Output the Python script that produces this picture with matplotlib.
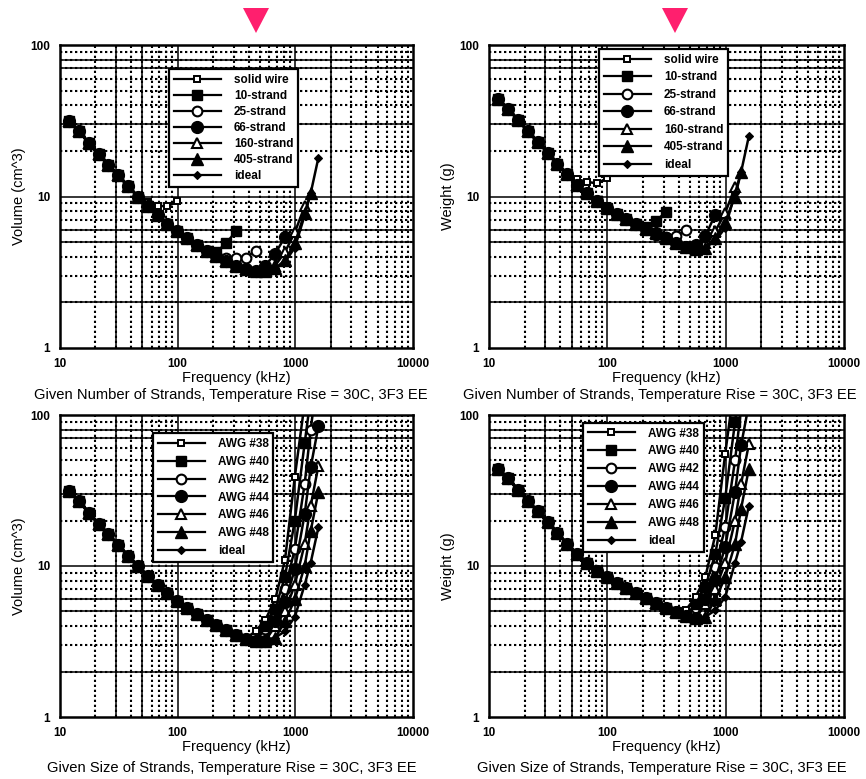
import matplotlib
matplotlib.use("Agg")
import matplotlib.pyplot as plt
from matplotlib.patches import Polygon
from matplotlib.lines import Line2D
from matplotlib.ticker import FixedLocator, NullLocator, FixedFormatter

plt.rcParams['font.family'] = ['Liberation Sans', 'DejaVu Sans']

# ---- data -------------------------------------------------------------
freq = [12, 14.5, 17.6, 21.3, 25.8, 31.3, 37.9, 45.9, 55.6, 67.4, 81.7, 99,
        120, 145, 176, 213, 258, 313, 379, 459, 556, 674, 817, 990, 1200,
        1350, 1570]

# volume (cm^3) of the ideal design
vol_ideal = [31.5, 27, 22.5, 19, 16.2, 13.8, 11.7, 10, 8.6, 7.5, 6.6, 5.9,
             5.3, 4.8, 4.4, 4.05, 3.75, 3.5, 3.3, 3.2, 3.2, 3.35, 3.7, 4.6,
             7.5, 10.5, 18]
# weight (g) of the ideal design
wt_ideal = [44, 38, 32, 27, 23, 19.5, 16.5, 14, 12, 10.5, 9.3, 8.4, 7.7,
            7.1, 6.6, 6.1, 5.7, 5.3, 4.95, 4.65, 4.5, 4.6, 5.1, 6.2, 10.5,
            14.5, 25]

# strand-count designs: index where each leaves the ideal curve, then values
strand_labels = ['solid wire', '10-strand', '25-strand', '66-strand',
                 '160-strand', '405-strand']
strand_start = [8, 15, 16, 20, 21, 22]
vol_strand_tail = [[9.2, 8.7, 8.6, 9.3],
                   [4.3, 4.9, 5.9],
                   [3.9, 3.95, 3.95, 4.4],
                   [3.5, 4.2, 5.4],
                   [3.5, 4.3, 5.8, 8.6],
                   [3.8, 4.9, 7.8, 10.5]]
wt_strand_tail = [[13, 12.5, 12.2, 13.2],
                  [6.3, 6.9, 7.9],
                  [5.6, 5.4, 5.5, 6.0],
                  [4.8, 5.5, 7.6],
                  [4.9, 5.9, 7.8, 11.5],
                  [5.3, 6.8, 10, 14.5]]

# strand-size designs
awg_labels = ['AWG #38', 'AWG #40', 'AWG #42', 'AWG #44', 'AWG #46', 'AWG #48']
awg_start = [19, 20, 20, 21, 21, 22]
vol_awg_tail = [[3.7, 4.4, 6.0, 11, 39, 120],
                [4.0, 5.2, 8.5, 20, 65, 130],
                [3.8, 4.8, 7.0, 13, 35, 80, 200],
                [4.3, 5.8, 9.5, 22, 45, 84],
                [4.0, 5.0, 7.5, 14, 25, 46],
                [4.3, 6.0, 10, 17, 31]]
wt_awg_tail = [[5.1, 6.2, 8.5, 16, 55, 170],
               [5.6, 7.3, 12, 28, 90, 180],
               [5.3, 6.7, 9.8, 18, 50, 110, 260],
               [6.0, 8.1, 13.3, 31, 63, 118],
               [5.6, 7.0, 10.5, 20, 35, 64],
               [6.0, 8.4, 14, 24, 44]]

x_ticks = [10, 100, 1000, 10000]
x_ticklabels = ['10', '100', '1000', '10000']
y_ticks = [1, 10, 100]
y_ticklabels = ['1', '10', '100']

# ---- styles -----------------------------------------------------------
series_style = [
    dict(marker='s', ms=5, mfc='white', mew=1.4),
    dict(marker='s', ms=7, mfc='black', mew=1.0),
    dict(marker='o', ms=7, mfc='white', mew=1.5),
    dict(marker='o', ms=8.5, mfc='black', mew=1.0),
    dict(marker='^', ms=7, mfc='white', mew=1.5),
    dict(marker='^', ms=8.5, mfc='black', mew=1.0),
]
# order in which the series are laid down (last one ends up on top)
draw_order = [2, 4, 0, 5, 3, 1]
ideal_style = dict(marker='D', ms=4, mfc='black', mew=0.8)

W, H = 866, 779
fig = plt.figure(figsize=(W / 100, H / 100), dpi=100)


def px_axes(left, top, right, bottom):
    return fig.add_axes([left / W, 1 - bottom / H, (right - left) / W,
                         (bottom - top) / H])


DOT = (0, (1.1, 1.3))


def dress(ax, ylabel):
    ax.set_xscale('log')
    ax.set_yscale('log')
    ax.set_xlim(10, 10000)
    ax.set_ylim(1, 100)
    for e in (10, 100, 1000):
        for m in range(2, 10):
            ax.axvline(m * e, color='k', lw=1.5, ls=DOT, zorder=0.5)
    for e in (1, 10):
        for m in range(2, 10):
            ax.axhline(m * e, color='k', lw=1.5, ls=DOT, zorder=0.5)
    for x in (30, 50, 100, 1000, 2000):
        ax.axvline(x, color='k', lw=1.1, zorder=0.6)
    for y in (2, 5, 6, 10, 30, 70, 80):
        ax.axhline(y, color='k', lw=1.1, zorder=0.6)
    ax.xaxis.set_major_locator(FixedLocator(x_ticks))
    ax.xaxis.set_major_formatter(FixedFormatter(x_ticklabels))
    ax.yaxis.set_major_locator(FixedLocator(y_ticks))
    ax.yaxis.set_major_formatter(FixedFormatter(y_ticklabels))
    ax.xaxis.set_minor_locator(NullLocator())
    ax.yaxis.set_minor_locator(NullLocator())
    ax.tick_params(length=0, labelsize=8.5, pad=7)
    for lab in ax.get_xticklabels() + ax.get_yticklabels():
        lab.set_fontweight('bold')
    for s in ax.spines.values():
        s.set_linewidth(1.8)
    ax.set_xlabel('Frequency (kHz)', fontsize=10.5, labelpad=1)
    ax.set_ylabel(ylabel, fontsize=10.5, labelpad=3)


def draw(ax, ideal, labels, starts, tails, legend_anchor, spacing):
    handles = []
    for lab, st, tail, sty in zip(labels, starts, tails, series_style):
        handles.append(Line2D([], [], color='k', lw=1.6, mec='k', **sty))
    for i in draw_order:
        ys = ideal[:starts[i]] + tails[i]
        xs = freq[:len(ys)]
        ax.plot(xs, ys, color='k', lw=1.8, mec='k', zorder=3,
                **series_style[i])
    ax.plot(freq, ideal, color='k', lw=1.8, mec='k', zorder=3.5,
            **ideal_style)
    handles.append(Line2D([], [], color='k', lw=1.6, mec='k', **ideal_style))
    leg = ax.legend(handles, labels + ['ideal'], loc='upper left',
                    bbox_to_anchor=legend_anchor, fancybox=False,
                    framealpha=1, edgecolor='k', handlelength=4.0,
                    handletextpad=1.1, borderpad=0.4, labelspacing=spacing,
                    prop=dict(size=8.5, weight='bold'), borderaxespad=0)
    leg.get_frame().set_linewidth(1.6)
    leg.set_zorder(5)


ax1 = px_axes(60, 45, 413, 348)
ax2 = px_axes(489, 45, 844, 348)
ax3 = px_axes(60, 415, 413, 717)
ax4 = px_axes(489, 415, 844, 717)

for ax, yl in ((ax1, 'Volume (cm^3)'), (ax2, 'Weight (g)'),
               (ax3, 'Volume (cm^3)'), (ax4, 'Weight (g)')):
    dress(ax, yl)

draw(ax1, vol_ideal, strand_labels, strand_start, vol_strand_tail,
     (0.309, 0.921), 0.35)
draw(ax2, wt_ideal, strand_labels, strand_start, wt_strand_tail,
     (0.31, 0.987), 0.47)
draw(ax3, vol_ideal, awg_labels, awg_start, vol_awg_tail,
     (0.263, 0.94), 0.5)
draw(ax4, wt_ideal, awg_labels, awg_start, wt_awg_tail,
     (0.265, 0.974), 0.5)

cap_top = 'Given Number of Strands, Temperature Rise = 30C, 3F3 EE'
cap_bot = 'Given Size of Strands, Temperature Rise = 30C, 3F3 EE'
fig.text(231 / W, 1 - 395 / H, cap_top, ha='center', va='center',
         fontsize=10.6)
fig.text(660 / W, 1 - 395 / H, cap_top, ha='center', va='center',
         fontsize=10.6)
fig.text(232 / W, 1 - 768 / H, cap_bot, ha='center', va='center',
         fontsize=10.6)
fig.text(662 / W, 1 - 768 / H, cap_bot, ha='center', va='center',
         fontsize=10.6)

# pointer marks above the upper panels
for cx in (256, 675):
    tri = Polygon([[(cx - 13) / W, 1 - 8 / H], [(cx + 13) / W, 1 - 8 / H],
                   [cx / W, 1 - 33 / H]], closed=True,
                  transform=fig.transFigure, facecolor='#ff1f6e',
                  edgecolor='none')
    fig.add_artist(tri)

fig.savefig('out.png', dpi=100)
